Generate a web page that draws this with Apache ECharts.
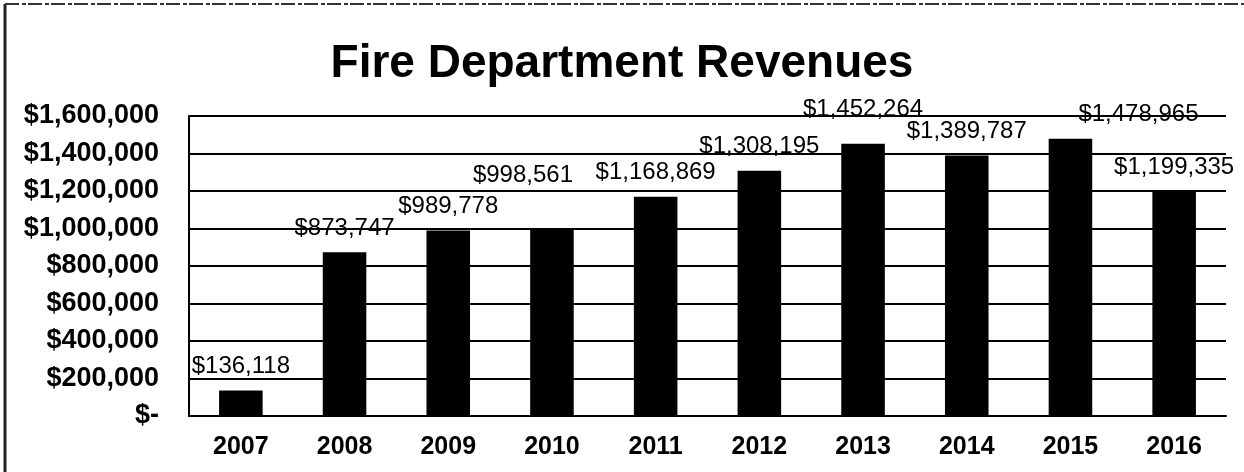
<!DOCTYPE html>
<html>
<head>
<meta charset="utf-8">
<title>Fire Department Revenues</title>
<script src="https://cdn.jsdelivr.net/npm/echarts@6/dist/echarts.min.js"></script>
<style>
  html, body { margin: 0; padding: 0; background: #fff; }
  #chart { width: 1244px; height: 472px; }
</style>
</head>
<body>
<div id="chart"></div>
<script>
// chart data
var years = ['2007', '2008', '2009', '2010', '2011', '2012', '2013', '2014', '2015', '2016']
var revenues = [136118, 873747, 989778, 998561, 1168869, 1308195, 1452264, 1389787, 1478965, 1199335]
var yTicks = [0, 200000, 400000, 600000, 800000, 1000000, 1200000, 1400000, 1600000]

var font = '"Liberation Sans", Arial, sans-serif'

function money(v) {
  if (v === 0) return '$-'
  return '$' + v.toLocaleString('en-US')
}

// labels in the original sit a bit off their bars for some years
var labelShift = { 3: [-29, -29], 6: [0, -10], 8: [68, 0] }

var chart = echarts.init(document.getElementById('chart'))

chart.setOption({
  backgroundColor: '#fff',
  animation: false,
  title: {
    text: 'Fire Department Revenues',
    left: 'center',
    top: 36,
    textStyle: {
      fontFamily: font,
      fontSize: 46,
      fontWeight: 'bold',
      color: '#000'
    }
  },
  grid: {
    left: 189,
    right: 18,
    top: 116,
    bottom: 56
  },
  xAxis: {
    type: 'category',
    data: years,
    axisTick: { show: false },
    axisLine: { lineStyle: { color: '#000', width: 2 } },
    axisLabel: {
      color: '#000',
      fontFamily: font,
      fontSize: 25,
      fontWeight: 'bold',
      margin: 19
    }
  },
  yAxis: {
    type: 'value',
    min: yTicks[0],
    max: yTicks[yTicks.length - 1],
    interval: yTicks[1] - yTicks[0],
    axisLine: { show: true, lineStyle: { color: '#000', width: 2 } },
    axisTick: { show: false },
    splitLine: { lineStyle: { color: '#000', width: 2 } },
    axisLabel: {
      color: '#000',
      fontFamily: font,
      fontSize: 27,
      fontWeight: 'bold',
      margin: 30,
      formatter: money
    }
  },
  series: [
    {
      type: 'bar',
      barWidth: '42%',
      itemStyle: { color: '#000' },
      label: {
        show: true,
        position: 'top',
        distance: 12,
        color: '#000',
        fontFamily: font,
        fontSize: 24,
        formatter: function (p) { return money(p.value) }
      },
      data: revenues.map(function (v, i) {
        var item = { value: v }
        if (labelShift[i]) item.label = { offset: labelShift[i] }
        return item
      })
    }
  ],
  graphic: [
    {
      type: 'line',
      shape: { x1: 5, y1: 4, x2: 5, y2: 472 },
      style: { stroke: '#222', lineWidth: 3 }
    },
    {
      type: 'line',
      shape: { x1: 5, y1: 4, x2: 1244, y2: 4 },
      style: { stroke: '#333', lineWidth: 2, lineDash: [14, 3, 4, 2] }
    }
  ]
})
</script>
</body>
</html>
